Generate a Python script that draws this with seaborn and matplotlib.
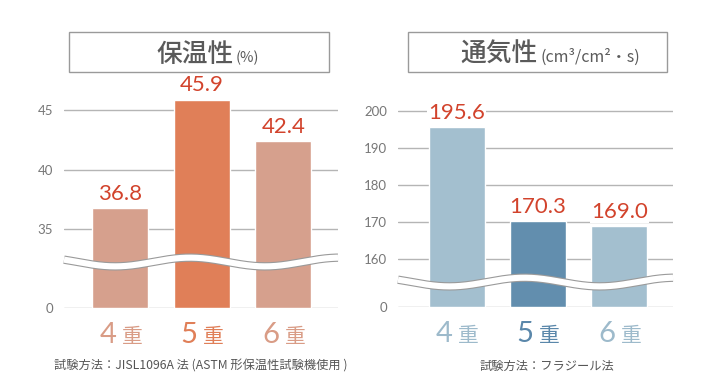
import numpy as np
import matplotlib
matplotlib.use("Agg")
import matplotlib.pyplot as plt
import seaborn as sns
from matplotlib.patches import Rectangle

sns.set_style("white")
plt.rcParams['font.family'] = ['Noto Sans CJK JP', 'DejaVu Sans']

# datos
capas = ['4', '5', '6']
sufijo = '重'
hoshon = [36.8, 45.9, 42.4]          # 保温性 (%)
tsuki = [195.6, 170.3, 169.0]        # 通気性 (cm3/cm2・s)
ticks_izq = [0, 35, 40, 45]
ticks_der = [0, 160, 170, 180, 190, 200]

col_izq = ['#d6a08d', '#e07f58', '#d6a08d']
col_der = ['#a3bfcf', '#628eae', '#a3bfcf']
txt_izq = ['#d99c86', '#e07f58', '#d99c86']
txt_der = ['#9dbacb', '#5a87aa', '#9dbacb']
rojo = '#d2432c'
gris = '#5a5a5a'
lat = ['Lato', 'DejaVu Sans']


def escala(corte, base):
    # eje cortado: lineal sobre el corte, comprimido por debajo
    def fwd(y):
        y = np.asarray(y, dtype=float)
        return np.where(y >= corte, y, base + y * (corte - base) / corte)

    def inv(z):
        z = np.asarray(z, dtype=float)
        return np.where(z >= corte, z, (z - base) * corte / (corte - base))
    return fwd, inv


def panel(ax, vals, colores, txtcol, ticks, corte, base, ymax, xlim, ywave):
    nombres = [c + sufijo for c in capas]
    sns.barplot(x=nombres, y=vals, hue=nombres, palette=colores, legend=False,
                width=0.69, saturation=1, ax=ax, zorder=3)
    ax.set_yscale('function', functions=escala(corte, base))
    ax.set_ylim(0, ymax)
    ax.set_xlim(*xlim)
    ax.set_yticks(ticks)
    ax.set_yticklabels([str(t) for t in ticks], family=lat)
    ax.tick_params(axis='y', length=0, pad=8, labelsize=9.5, labelcolor='#777777')
    ax.set_xticks([])
    ax.set_xlabel('')
    ax.set_ylabel('')
    ax.grid(axis='y', color='#b5b5b5', lw=1, zorder=0)
    ax.set_axisbelow(True)
    sns.despine(ax=ax, left=True, bottom=True)

    for i, v in enumerate(vals):
        ax.annotate(f'{v:.1f}', xy=(i, v), xytext=(0, 3), textcoords='offset points',
                    ha='center', va='bottom', fontsize=16, color=rojo, zorder=5,
                    family=lat,
                    bbox=dict(boxstyle='square,pad=0.05', fc='white', ec='none'))
        ax.annotate(capas[i], xy=(i, 0), xycoords=('data', 'axes fraction'),
                    xytext=(-3, -25), textcoords='offset points', ha='right',
                    va='baseline', fontsize=21, color=txtcol[i], family=lat)
        ax.annotate(sufijo, xy=(i, 0), xycoords=('data', 'axes fraction'),
                    xytext=(1, -25), textcoords='offset points', ha='left',
                    va='baseline', fontsize=15, color=txtcol[i])

    # línea ondulada del corte
    xs = np.linspace(0, 1, 300)
    ys = ywave + 0.02 * np.cos(2 * np.pi * (xs - 0.46) / 0.547)
    ax.plot(xs, ys, transform=ax.transAxes, color='#9a9a9a', lw=6,
            solid_capstyle='butt', zorder=6, clip_on=False)
    ax.plot(xs, ys, transform=ax.transAxes, color='white', lw=4.4,
            solid_capstyle='butt', zorder=7, clip_on=False)


fig = plt.figure(figsize=(7.12, 3.87), dpi=100)
ax1 = fig.add_axes([64 / 712, 79 / 387, 274 / 712, 218 / 387])
ax2 = fig.add_axes([398 / 712, 80 / 387, 275 / 712, 217 / 387])

panel(ax1, hoshon, col_izq, txt_izq, ticks_izq, 32, 28.4, 46.7, (-0.69, 2.67), 0.211)
panel(ax2, tsuki, col_der, txt_der, ticks_der, 155, 147, 205.7, (-0.72, 2.66), 0.115)

W, H = 712, 387
# cajas de título
for x0, x1 in [(69, 329), (408, 667)]:
    fig.patches.append(Rectangle((x0 / W, 1 - 72 / H), (x1 - x0) / W, 40 / H,
                                 transform=fig.transFigure, fill=False,
                                 ec='#9a9a9a', lw=1))

fig.text(234 / W, 1 - 62 / H, '保温性', ha='right', va='baseline',
         fontsize=18.5, color=gris, fontweight='medium')
fig.text(236 / W, 1 - 62 / H, '(%)', ha='left', va='baseline',
         fontsize=10.5, color=gris)
fig.text(538 / W, 1 - 62 / H, '通気性', ha='right', va='baseline',
         fontsize=18.5, color=gris, fontweight='medium')
fig.text(541 / W, 1 - 62 / H, '(cm³/cm²・s)', ha='left', va='baseline',
         fontsize=11.5, color=gris)

fig.text(201 / W, 1 - 370 / H, '試験方法：JISL1096A 法 (ASTM 形保温性試験機使用 )',
         ha='center', va='baseline', fontsize=8.8, color='#555555')
fig.text(547 / W, 1 - 370 / H, '試験方法：フラジール法',
         ha='center', va='baseline', fontsize=8.8, color='#555555')

fig.savefig('out.png', dpi=100)
